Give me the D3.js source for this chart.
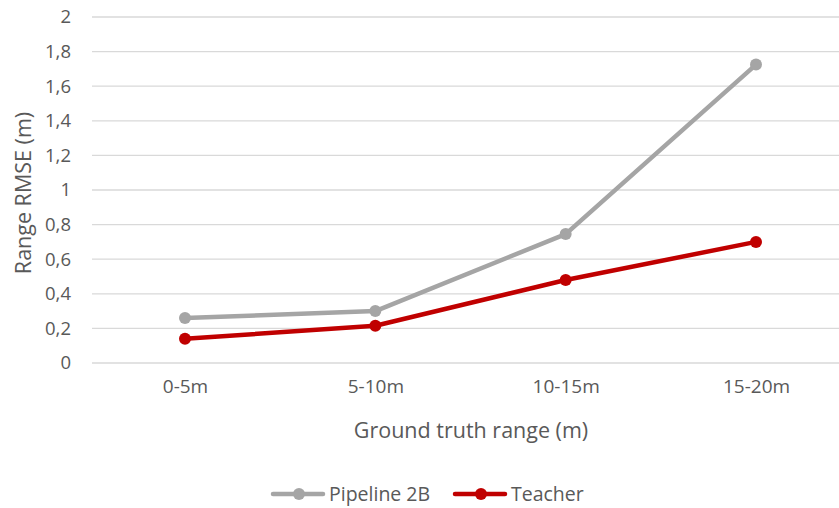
<!DOCTYPE html>
<html><head><meta charset="utf-8">
<script src="https://cdn.jsdelivr.net/npm/d3@7"></script>
<style>body{margin:0;background:#fff}svg{display:block}text{font-family:"Open Sans",sans-serif;fill:#595959}</style>
</head><body><svg id="c" width="839" height="508"></svg>
<script>
const categories = ["0-5m","5-10m","10-15m","15-20m"];
const pipeline2B = [0.26,0.30,0.745,1.725];
const teacher = [0.14,0.215,0.48,0.70];
const yTicks = [0,0.2,0.4,0.6,0.8,1,1.2,1.4,1.6,1.8,2];
const seriesNames = ["Pipeline 2B","Teacher"];
const colors = ["#a5a5a5","#c00000"];

const svg = d3.select("#c");
const x = d3.scalePoint().domain(categories).range([185,756]);
const y = d3.scaleLinear().domain([0,2]).range([363,17]);
const fmt = d => String(d).replace(".",",");

// gridlines
svg.append("g").selectAll("line").data(yTicks).join("line")
  .attr("x1",92).attr("x2",839).attr("y1",d=>y(d)).attr("y2",d=>y(d))
  .attr("stroke","#d9d9d9").attr("stroke-width",1.3);

// y axis labels
const yAxis = d3.axisLeft(y).tickValues(yTicks).tickFormat(fmt).tickSize(0).tickPadding(0);
const ga = svg.append("g").attr("transform","translate(71,0)").call(yAxis);
ga.select(".domain").remove();
ga.selectAll("text").attr("font-size",18.5).style("fill","#595959").attr("font-family","Open Sans");

// x axis labels
const xAxis = d3.axisBottom(x).tickSize(0).tickPadding(0);
const gx = svg.append("g").attr("transform","translate(0,379)").call(xAxis);
gx.select(".domain").remove();
gx.selectAll("text").attr("font-size",19).style("fill","#595959").attr("font-family","Open Sans").attr("dy","0.71em");

// axis titles
svg.append("text").attr("x",471).attr("y",438).attr("text-anchor","middle").attr("font-size",21.5).text("Ground truth range (m)");
svg.append("text").attr("transform","translate(31,193) rotate(-90)").attr("text-anchor","middle").attr("font-size",21.5).text("Range RMSE (m)");

// series
const data = [pipeline2B, teacher];
const line = d3.line().x((d,i)=>x(categories[i])).y(d=>y(d));
data.forEach((vals,k)=>{
  svg.append("path").datum(vals).attr("d",line).attr("fill","none")
    .attr("stroke",colors[k]).attr("stroke-width",4.5).attr("stroke-linejoin","round").attr("stroke-linecap","round");
  svg.append("g").selectAll("circle").data(vals).join("circle")
    .attr("cx",(d,i)=>x(categories[i])).attr("cy",d=>y(d)).attr("r",6).attr("fill",colors[k]);
});

// legend
const legX = [273,455], legTextX=[329,511];
seriesNames.forEach((n,k)=>{
  const g = svg.append("g");
  g.append("line").attr("x1",legX[k]).attr("x2",legX[k]+50).attr("y1",494).attr("y2",494)
    .attr("stroke",colors[k]).attr("stroke-width",4.5).attr("stroke-linecap","round");
  g.append("circle").attr("cx",legX[k]+26).attr("cy",494).attr("r",6).attr("fill",colors[k]);
  g.append("text").attr("x",legTextX[k]).attr("y",494).attr("dy","0.35em").attr("font-size",19.5).text(n);
});
</script></body></html>
